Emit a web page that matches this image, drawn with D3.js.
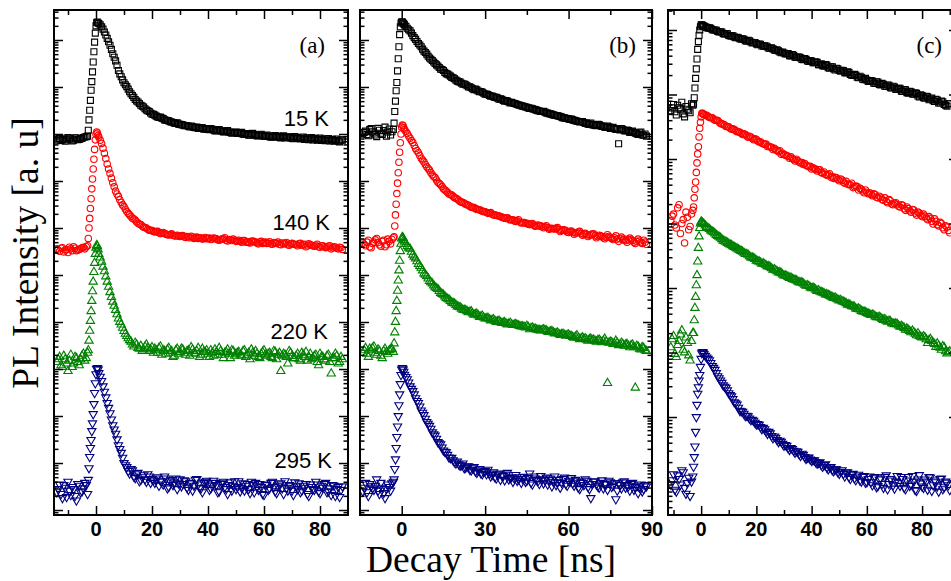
<!DOCTYPE html>
<html>
<head>
<meta charset="utf-8">
<script src="https://cdn.jsdelivr.net/npm/d3@7"></script>
<style>
  body { margin: 0; background: #fff; }
  .tick line { stroke: #000; stroke-width: 1.5; }
</style>
</head>
<body>
<script>
// decay time channels [ns]; panels (a) and (b) share one grid
const tAB = [
  -14, -13, -12, -11, -10, -9, -8, -7, -6, -5, -4, -3,
  -2.75, -2.5, -2.25, -2, -1.75, -1.5, -1.25, -1, -0.75, -0.5, -0.25, 0, 0.25, 0.5, 0.75,
  1, 2, 3, 4, 5, 6, 7, 8, 9, 10,
  11, 12, 13, 14, 15, 16, 17, 18, 19, 20,
  21, 22, 23, 24, 25, 26, 27, 28, 29, 30,
  31, 32, 33, 34, 35, 36, 37, 38, 39, 40,
  41, 42, 43, 44, 45, 46, 47, 48, 49, 50,
  51, 52, 53, 54, 55, 56, 57, 58, 59, 60,
  61, 62, 63, 64, 65, 66, 67, 68, 69, 70,
  71, 72, 73, 74, 75, 76, 77, 78, 79, 80,
  81, 82, 83, 84, 85, 86, 87, 88
];
// the in-between channels
const tABh = [
  -13.5, -12.5, -11.5, -10.5, -9.5, -8.5, -7.5, -6.5, -5.5, -4.5, -3.5,
  1.5, 2.5, 3.5, 4.5, 5.5, 6.5, 7.5, 8.5, 9.5, 10.5,
  11.5, 12.5, 13.5, 14.5, 15.5, 16.5, 17.5, 18.5, 19.5, 20.5,
  21.5, 22.5, 23.5, 24.5, 25.5, 26.5, 27.5, 28.5, 29.5, 30.5,
  31.5, 32.5, 33.5, 34.5, 35.5, 36.5, 37.5, 38.5, 39.5, 40.5,
  41.5, 42.5, 43.5, 44.5, 45.5, 46.5, 47.5, 48.5, 49.5, 50.5,
  51.5, 52.5, 53.5, 54.5, 55.5, 56.5, 57.5, 58.5, 59.5, 60.5,
  61.5, 62.5, 63.5, 64.5, 65.5, 66.5, 67.5, 68.5, 69.5, 70.5,
  71.5, 72.5, 73.5, 74.5, 75.5, 76.5, 77.5, 78.5, 79.5, 80.5,
  81.5, 82.5, 83.5, 84.5, 85.5, 86.5, 87.5
];
const tC = [
  -11, -10, -9, -8, -7, -6, -5, -4, -3,
  -2.75, -2.5, -2.25, -2, -1.75, -1.5, -1.25, -1, -0.75, -0.5, -0.25, 0, 0.25, 0.5, 0.75,
  1, 2, 3, 4, 5, 6, 7, 8, 9, 10,
  11, 12, 13, 14, 15, 16, 17, 18, 19, 20,
  21, 22, 23, 24, 25, 26, 27, 28, 29, 30,
  31, 32, 33, 34, 35, 36, 37, 38, 39, 40,
  41, 42, 43, 44, 45, 46, 47, 48, 49, 50,
  51, 52, 53, 54, 55, 56, 57, 58, 59, 60,
  61, 62, 63, 64, 65, 66, 67, 68, 69, 70,
  71, 72, 73, 74, 75, 76, 77, 78, 79, 80,
  81, 82, 83, 84, 85, 86, 87, 88, 89, 90
];
const tCh = [
  -10.5, -9.5, -8.5, -7.5, -6.5, -5.5, -4.5, -3.5,
  1.5, 2.5, 3.5, 4.5, 5.5, 6.5, 7.5, 8.5, 9.5, 10.5,
  11.5, 12.5, 13.5, 14.5, 15.5, 16.5, 17.5, 18.5, 19.5, 20.5,
  21.5, 22.5, 23.5, 24.5, 25.5, 26.5, 27.5, 28.5, 29.5, 30.5,
  31.5, 32.5, 33.5, 34.5, 35.5, 36.5, 37.5, 38.5, 39.5, 40.5,
  41.5, 42.5, 43.5, 44.5, 45.5, 46.5, 47.5, 48.5, 49.5, 50.5,
  51.5, 52.5, 53.5, 54.5, 55.5, 56.5, 57.5, 58.5, 59.5, 60.5,
  61.5, 62.5, 63.5, 64.5, 65.5, 66.5, 67.5, 68.5, 69.5, 70.5,
  71.5, 72.5, 73.5, 74.5, 75.5, 76.5, 77.5, 78.5, 79.5, 80.5,
  81.5, 82.5, 83.5, 84.5, 85.5, 86.5, 87.5, 88.5, 89.5
];

const temps = ['15 K', '140 K', '220 K', '295 K'];

// PL counts, panel (a)
const a15 = [
  72, 80, 76, 70, 84, 78, 74, 82, 77, 80, 86, 90,
  120, 200, 320, 520, 850, 1300, 2100, 3400, 5600, 9000, 14000, 20000, 23500, 24000, 23000,
  22500, 19000, 14800, 10800, 7700, 5100, 3600, 2250, 1650, 1230,
  1020, 790, 660, 540, 480, 410, 375, 325, 300, 265,
  252, 230, 228, 212, 196, 190, 180, 170, 174, 160,
  156, 152, 146, 148, 138, 140, 133, 136, 128, 126,
  131, 122, 118, 124, 114, 112, 118, 108, 106, 110,
  104, 108, 98, 101, 96, 103, 94, 92, 99, 90,
  95, 88, 86, 93, 90, 82, 91, 85, 87, 80,
  88, 83, 78, 86, 81, 76, 84, 80, 74, 82,
  77, 72, 80, 75, 70, 78, 68, 74
];
const a15h = [
  78, 73, 81, 75, 79, 71, 83, 76, 79, 84, 88,
  21000, 17000, 12800, 9200, 6300, 4300, 2900, 1900, 1420, 1120,
  900, 720, 600, 505, 445, 392, 345, 312, 280, 262,
  240, 224, 218, 200, 194, 182, 176, 168, 162, 158,
  150, 150, 141, 143, 136, 132, 137, 127, 130, 124,
  126, 116, 121, 117, 111, 116, 110, 104, 109, 103,
  106, 99, 102, 94, 100, 97, 91, 96, 92, 89,
  92, 85, 90, 87, 84, 88, 82, 86, 83, 79,
  85, 80, 82, 77, 83, 79, 75, 81, 77, 73,
  79, 74, 71, 77, 73, 70, 75
];
const a140 = [
  36, 32, 38, 34, 30, 36, 40, 33, 35, 38, 36, 42,
  60, 100, 160, 260, 420, 680, 1100, 1800, 2900, 4700, 7500, 10000, 11000, 10500, 9300,
  8600, 6300, 3900, 2300, 1450, 920, 610, 470, 350, 285,
  225, 190, 162, 148, 126, 118, 104, 100, 90, 88,
  82, 85, 76, 80, 74, 71, 75, 68, 70, 66,
  69, 63, 65, 67, 60, 64, 62, 58, 63, 60,
  57, 61, 59, 55, 58, 62, 53, 56, 58, 52,
  55, 50, 54, 51, 48, 53, 50, 46, 52, 49,
  47, 51, 45, 48, 50, 44, 46, 49, 43, 47,
  45, 42, 47, 44, 40, 46, 43, 41, 45, 39,
  42, 38, 41, 36, 40, 37, 39, 35
];
const a140h = [
  34, 37, 31, 35, 39, 33, 37, 34, 36, 39, 40,
  7400, 5000, 3000, 1800, 1150, 750, 530, 400, 310, 250,
  205, 176, 155, 136, 122, 110, 102, 94, 89, 85,
  84, 79, 78, 76, 72, 73, 70, 68, 67, 68,
  65, 66, 62, 64, 63, 60, 61, 60, 59, 61,
  58, 60, 56, 57, 59, 55, 57, 54, 55, 53,
  52, 54, 50, 49, 52, 51, 48, 50, 47, 50,
  48, 46, 49, 47, 45, 48, 47, 44, 46, 45,
  44, 46, 43, 45, 42, 44, 42, 43, 40, 42,
  40, 39, 42, 38, 39, 36, 38
];
const a220 = [
  14, 18, 11, 16, 9, 20, 13, 17, 12, 19, 15, 22,
  25, 40, 65, 105, 170, 280, 450, 720, 1150, 1800, 2800, 3800, 4300, 4100, 3500,
  2800, 1900, 1200, 720, 430, 270, 180, 118, 88, 64,
  50, 41, 33, 36, 28, 31, 26, 33, 24, 29,
  27, 22, 30, 25, 21, 28, 24, 19, 27, 23,
  26, 20, 25, 29, 22, 24, 18, 27, 23, 21,
  25, 19, 23, 28, 20, 22, 26, 17, 24, 21,
  23, 19, 25, 20, 16, 22, 24, 18, 21, 25,
  19, 22, 17, 23, 20, 9, 21, 18, 24, 19,
  17, 21, 15, 20, 23, 18, 16, 19, 14, 21,
  18, 15, 20, 8, 17, 19, 14, 16
];
const a220h = [
  16, 12, 19, 13, 15, 11, 18, 14, 16, 21, 17,
  2350, 1500, 930, 560, 340, 220, 145, 100, 75, 56,
  45, 38, 30, 33, 27, 24, 30, 28, 26, 22,
  25, 28, 20, 24, 26, 22, 18, 25, 21, 27,
  22, 24, 19, 26, 21, 28, 20, 23, 25, 18,
  22, 26, 20, 24, 17, 23, 21, 25, 19, 22,
  20, 24, 18, 22, 26, 19, 21, 17, 23, 20,
  21, 18, 24, 16, 22, 19, 20, 13, 22, 17,
  19, 16, 22, 18, 15, 21, 17, 20, 12, 18,
  16, 19, 14, 17, 21, 13, 18
];
const a295 = [
  24, 35, 18, 30, 40, 21, 28, 16, 33, 25, 38, 22,
  44, 78, 135, 210, 310, 480, 700, 1100, 1800, 3100, 5000, 7800, 10000, 10500, 9800,
  8200, 5600, 3300, 1900, 1150, 640, 420, 240, 165, 100,
  82, 60, 70, 48, 62, 44, 55, 40, 52, 46,
  38, 50, 42, 35, 47, 31, 44, 39, 28, 45,
  36, 41, 27, 38, 33, 46, 30, 24, 40, 35,
  29, 42, 34, 25, 37, 31, 22, 39, 33, 28,
  41, 30, 26, 36, 23, 34, 38, 27, 31, 21,
  35, 29, 40, 25, 32, 37, 22, 30, 34, 26,
  39, 28, 24, 33, 36, 20, 31, 27, 35, 23,
  30, 38, 25, 21, 33, 28, 19, 32
];
const a295h = [
  28, 22, 34, 19, 26, 31, 20, 36, 24, 29, 34,
  6900, 4300, 2500, 1500, 850, 520, 320, 200, 130, 90,
  68, 75, 52, 58, 41, 50, 45, 58, 38, 43,
  47, 33, 40, 52, 29, 41, 34, 47, 37, 32,
  43, 30, 37, 26, 44, 35, 29, 38, 42, 27,
  33, 38, 24, 36, 40, 28, 34, 26, 41, 31,
  25, 37, 33, 28, 40, 24, 32, 36, 22, 34,
  27, 38, 31, 23, 35, 29, 41, 26, 33, 21,
  32, 37, 26, 30, 22, 35, 28, 40, 25, 33,
  36, 24, 29, 34, 20, 31, 27
];

// PL counts, panel (b)
const b15 = [
  100, 115, 92, 130, 105, 88, 120, 98, 140, 110, 95, 125,
  170, 300, 500, 830, 1250, 2200, 4000, 7200, 13000, 19000, 23000, 24500, 24000, 23000, 22000,
  21000, 17800, 15600, 12400, 10300, 8400, 7200, 5800, 5000, 4150,
  3650, 3150, 2800, 2400, 2250, 1920, 1800, 1600, 1500, 1330,
  1270, 1150, 1120, 1000, 960, 880, 870, 790, 775, 700,
  690, 640, 620, 600, 550, 548, 500, 500, 460, 455,
  440, 415, 398, 385, 372, 350, 345, 330, 312, 300,
  305, 280, 270, 262, 250, 244, 236, 220, 215, 210,
  208, 195, 188, 180, 185, 168, 162, 170, 155, 150,
  158, 145, 140, 148, 132, 138, 125, 62, 130, 118,
  122, 108, 115, 104, 98, 110, 94, 90
];
const b15h = [
  108, 97, 124, 112, 95, 132, 104, 118, 90, 128, 112,
  19500, 16500, 14000, 11200, 9300, 7800, 6400, 5400, 4500, 3900,
  3400, 2950, 2600, 2350, 2050, 1880, 1700, 1560, 1400, 1300,
  1200, 1150, 1060, 1010, 920, 900, 820, 800, 735, 710,
  660, 645, 600, 580, 560, 520, 515, 480, 470, 445,
  425, 410, 392, 375, 360, 352, 335, 322, 308, 302,
  292, 278, 268, 255, 248, 240, 228, 222, 214, 205,
  200, 192, 184, 182, 175, 170, 160, 158, 152, 160,
  150, 146, 138, 142, 135, 130, 128, 122, 126, 116,
  118, 112, 108, 102, 106, 96, 100
];
const b140 = [
  48, 42, 55, 38, 50, 60, 44, 52, 40, 58, 46, 62,
  65, 110, 190, 320, 540, 900, 1500, 2500, 4100, 6500, 10000, 14000, 15500, 15000, 13500,
  12400, 10200, 8100, 6600, 4900, 4000, 3050, 2550, 2000, 1700,
  1350, 1180, 940, 830, 680, 610, 530, 500, 440, 415,
  365, 350, 320, 305, 275, 272, 250, 244, 226, 222,
  205, 212, 190, 186, 180, 170, 162, 165, 148, 150,
  138, 150, 128, 131, 126, 118, 124, 109, 115, 112,
  101, 112, 94, 99, 95, 102, 84, 92, 88, 80,
  86, 74, 79, 85, 70, 77, 66, 73, 75, 62,
  70, 66, 59, 72, 63, 57, 68, 52, 64, 58,
  50, 61, 54, 47, 58, 49, 55, 45
];
const b140h = [
  45, 50, 40, 47, 56, 49, 41, 55, 44, 52, 57,
  11300, 9100, 7300, 5700, 4400, 3500, 2800, 2250, 1850, 1500,
  1250, 1050, 880, 760, 640, 570, 515, 470, 430, 390,
  355, 335, 312, 290, 275, 258, 248, 235, 224, 214,
  208, 198, 188, 182, 175, 166, 160, 155, 150, 142,
  142, 134, 130, 126, 120, 122, 114, 112, 110, 106,
  106, 102, 97, 96, 98, 92, 89, 90, 82, 84,
  80, 78, 82, 76, 74, 72, 70, 74, 68, 66,
  68, 62, 64, 66, 60, 62, 58, 60, 56, 54,
  56, 57, 50, 52, 53, 47, 50
];
const b220 = [
  22, 28, 18, 25, 30, 20, 24, 17, 27, 21, 26, 23,
  35, 60, 100, 170, 280, 460, 760, 1250, 2000, 3200, 4600, 6000, 6400, 6100, 5500,
  5100, 4100, 3600, 2700, 2250, 1700, 1420, 1080, 940, 740,
  660, 545, 500, 415, 380, 322, 300, 258, 246, 214,
  205, 182, 178, 160, 168, 143, 150, 128, 135, 118,
  122, 108, 114, 100, 106, 95, 99, 88, 96, 86,
  90, 84, 80, 79, 83, 70, 76, 72, 68, 66,
  70, 66, 61, 64, 57, 59, 53, 56, 51, 54,
  50, 46, 52, 43, 47, 45, 40, 44, 42, 38,
  42, 37, 44, 5, 38, 34, 40, 32, 36, 31,
  34, 29, 33, 4, 30, 26, 28, 24
];
const b220h = [
  25, 21, 27, 28, 22, 26, 19, 24, 23, 25, 27,
  4600, 3800, 3100, 2450, 1950, 1550, 1250, 1010, 840, 700,
  600, 520, 455, 395, 350, 310, 278, 252, 230, 210,
  192, 180, 170, 164, 152, 146, 138, 132, 124, 120,
  114, 111, 106, 103, 99, 97, 93, 92, 89, 88,
  86, 82, 81, 76, 78, 74, 72, 69, 67, 68,
  67, 62, 63, 60, 58, 56, 55, 53, 53, 51,
  48, 49, 46, 45, 44, 42, 43, 41, 40, 41,
  39, 40, 38, 36, 37, 35, 36, 33, 34, 33,
  31, 32, 29, 31, 27, 29, 25
];
const b295 = [
  25, 38, 20, 32, 27, 45, 22, 30, 18, 35, 26, 40,
  45, 75, 120, 210, 360, 600, 1000, 1700, 2900, 4800, 7500, 9800, 10500, 9800, 8800,
  7600, 6100, 4300, 3400, 2400, 1900, 1320, 1050, 750, 620,
  450, 385, 280, 250, 185, 170, 132, 130, 104, 108,
  88, 98, 80, 86, 70, 82, 62, 75, 58, 68,
  72, 52, 64, 47, 60, 55, 43, 62, 48, 40,
  56, 45, 38, 51, 42, 60, 35, 47, 41, 53,
  37, 49, 44, 32, 52, 39, 30, 46, 36, 42,
  48, 33, 41, 28, 38, 45, 31, 18, 40, 35,
  30, 43, 36, 27, 39, 33, 17, 37, 29, 41,
  34, 26, 38, 31, 23, 35, 28, 32
];
const b295h = [
  30, 24, 36, 29, 33, 26, 38, 23, 28, 31, 37,
  6800, 5200, 3800, 2900, 2100, 1600, 1180, 880, 690, 540,
  410, 330, 265, 215, 175, 150, 128, 115, 98, 94,
  90, 78, 84, 72, 78, 66, 70, 60, 65, 58,
  60, 56, 50, 58, 44, 53, 57, 45, 50, 47,
  42, 50, 46, 40, 48, 38, 52, 44, 36, 45,
  43, 35, 47, 40, 34, 44, 38, 49, 33, 40,
  37, 44, 30, 39, 34, 42, 28, 36, 41, 32,
  38, 29, 35, 42, 31, 37, 26, 34, 39, 30,
  32, 36, 27, 33, 30, 25, 34
];

// PL counts, panel (c)
const c15 = [
  560, 700, 480, 620, 760, 450, 590, 520, 680,
  710, 890, 1260, 1780, 2500, 3550, 5000, 6600, 8300, 10000, 11200, 12000, 12000, 11700, 11500,
  11500, 11000, 10800, 10100, 10000, 9500, 9400, 8800, 8800, 8200,
  8100, 7800, 7700, 7300, 7300, 6800, 6900, 6500, 6400, 6100,
  6050, 5650, 5700, 5450, 5200, 5100, 4800, 4750, 4450, 4400,
  4300, 4000, 4150, 3800, 3800, 3700, 3450, 3500, 3250, 3300,
  3100, 3150, 2900, 2800, 2900, 2600, 2680, 2500, 2550, 2350,
  2380, 2180, 2250, 2050, 1980, 2000, 1820, 1850, 1700, 1680,
  1620, 1620, 1480, 1560, 1400, 1440, 1330, 1390, 1260, 1300,
  1200, 1250, 1120, 1180, 1050, 1100, 1010, 1040, 920, 960,
  880, 920, 850, 800, 840, 740, 790, 700, 660, 720
];
const c15h = [
  620, 540, 680, 590, 500, 650, 560, 720,
  11200, 10700, 10600, 10000, 9900, 9300, 9300, 8700, 8700, 8100,
  8100, 7600, 7600, 7200, 7200, 6700, 6800, 6300, 6400, 5900,
  6000, 5600, 5650, 5200, 5300, 4900, 4950, 4550, 4550, 4250,
  4300, 3950, 4050, 3750, 3800, 3500, 3600, 3300, 3350, 3100,
  3200, 2900, 3000, 2750, 2850, 2550, 2700, 2400, 2500, 2300,
  2350, 2150, 2200, 2000, 2050, 1850, 1920, 1720, 1780, 1600,
  1650, 1500, 1570, 1430, 1490, 1340, 1400, 1270, 1340, 1200,
  1250, 1130, 1190, 1070, 1120, 1020, 1060, 950, 990, 890,
  940, 830, 880, 780, 820, 740, 770, 680, 720
];
const c140 = [
  110, 140, 85, 195, 100, 50, 125, 90, 160,
  180, 250, 340, 440, 620, 870, 1200, 1550, 2200, 3000, 3700, 4500, 5100, 5100, 5000,
  4850, 4750, 4400, 4350, 4000, 3950, 3550, 3450, 3200, 3150,
  2900, 2870, 2640, 2600, 2400, 2400, 2180, 2200, 1990, 2000,
  1830, 1760, 1690, 1560, 1530, 1400, 1380, 1300, 1180, 1170,
  1120, 1030, 1020, 930, 940, 870, 820, 800, 760, 700,
  710, 650, 680, 600, 580, 570, 520, 500, 510, 460,
  470, 420, 410, 400, 360, 380, 330, 340, 300, 305,
  300, 270, 280, 250, 255, 230, 220, 235, 200, 205,
  195, 180, 190, 160, 170, 150, 162, 135, 145, 128,
  130, 115, 120, 98, 108, 92, 100, 80, 88, 72
];
const c140h = [
  130, 95, 175, 70, 115, 150, 80, 140,
  4800, 4550, 4400, 4150, 4000, 3750, 3500, 3350, 3200, 3000,
  2950, 2750, 2650, 2500, 2450, 2280, 2250, 2100, 2050, 1900,
  1850, 1720, 1700, 1580, 1520, 1460, 1360, 1340, 1230, 1150,
  1100, 1080, 980, 990, 900, 880, 850, 780, 770, 730,
  690, 680, 620, 630, 560, 590, 530, 520, 480, 490,
  440, 450, 400, 420, 370, 375, 350, 320, 330, 290,
  285, 290, 255, 265, 235, 250, 210, 225, 195, 210,
  185, 195, 170, 180, 158, 165, 145, 150, 135, 140,
  122, 128, 108, 118, 96, 104, 86, 92, 78
];
const c220 = [
  120, 180, 85, 150, 220, 100, 140, 75, 200,
  200, 316, 490, 725, 1100, 1580, 2570, 4170, 6300, 8500, 10000, 10700, 10500, 10200, 9900,
  9800, 8800, 8200, 7500, 7000, 6400, 6000, 5400, 5200, 4850,
  4600, 4300, 4100, 3850, 3650, 3350, 3280, 2980, 2900, 2650,
  2580, 2380, 2330, 2150, 2100, 1920, 1880, 1730, 1690, 1560,
  1530, 1430, 1380, 1340, 1260, 1210, 1170, 1080, 1070, 990,
  990, 900, 880, 850, 790, 780, 740, 700, 680, 640,
  620, 600, 550, 540, 520, 480, 480, 440, 430, 410,
  390, 385, 360, 350, 345, 320, 310, 310, 285, 275,
  275, 250, 250, 225, 225, 205, 205, 185, 180, 170,
  172, 140, 162, 140, 122, 128, 110, 120, 96, 104
];
const c220h = [
  160, 95, 130, 190, 110, 170, 90, 150,
  9300, 8500, 7800, 7300, 6600, 6200, 5700, 5300, 5000, 4700,
  4450, 4200, 3950, 3750, 3500, 3350, 3100, 2950, 2800, 2600,
  2480, 2400, 2250, 2180, 2020, 1950, 1810, 1760, 1620, 1560,
  1480, 1450, 1350, 1310, 1230, 1220, 1120, 1100, 1020, 1010,
  940, 920, 860, 830, 800, 760, 720, 710, 660, 650,
  610, 580, 560, 520, 510, 470, 465, 430, 420, 400,
  380, 380, 350, 355, 330, 330, 300, 305, 280, 282,
  262, 258, 240, 236, 215, 218, 195, 198, 175, 178,
  160, 155, 150, 135, 138, 118, 125, 104, 100
];
const c295 = [
  90, 130, 70, 110, 150, 80, 95, 60, 120,
  170, 240, 350, 590, 1000, 1550, 2300, 2900, 3700, 4500, 6000, 8000, 9800, 10200, 10000,
  9500, 8400, 7600, 6200, 5400, 4300, 3700, 3100, 2850, 2350,
  2100, 1700, 1560, 1250, 1210, 1040, 1030, 900, 880, 770,
  760, 650, 650, 550, 560, 470, 480, 410, 415, 360,
  360, 310, 320, 280, 290, 250, 260, 225, 236, 210,
  215, 190, 200, 170, 185, 155, 168, 145, 155, 132,
  150, 120, 140, 110, 132, 105, 128, 100, 122, 98,
  120, 88, 118, 85, 112, 80, 125, 92, 104, 78,
  122, 86, 110, 76, 118, 90, 100, 72, 126, 84,
  108, 75, 116, 88, 98, 70, 112, 82, 96, 74
];
const c295h = [
  105, 75, 125, 90, 140, 65, 115, 100,
  8900, 8000, 6900, 5800, 4800, 4000, 3400, 2950, 2600, 2200,
  1900, 1640, 1400, 1230, 1130, 1050, 950, 910, 820, 780,
  700, 680, 600, 590, 510, 500, 440, 430, 385, 370,
  330, 330, 300, 295, 265, 270, 240, 235, 220, 215,
  200, 195, 180, 180, 165, 168, 150, 155, 140, 142,
  132, 138, 118, 128, 112, 120, 104, 118, 96, 110,
  98, 115, 82, 108, 92, 118, 76, 110, 88, 100,
  96, 118, 80, 104, 86, 122, 74, 108, 94, 80,
  100, 118, 72, 104, 84, 110, 76, 100, 88
];

// vertical shift factors applied to each temperature curve
const shiftAB = [1e5, 1e3, 1e1, 1e-2];
const shiftC = [1e4, 1e3, 1e1, 1e-1];

const xLabelsA = [0, 20, 40, 60, 80];
const xLabelsB = [0, 30, 60, 90];
const xLabelsC = [0, 20, 40, 60, 80];

const width = 951;
const height = 581;
const plotTop = 10;
const plotBottom = 515;

const colors = ['#000000', '#ff0000', '#008000', '#000080'];
const symbols = [
  d3.symbol().type(d3.symbolSquare).size(36)(),
  d3.symbol().type(d3.symbolCircle).size(33)(),
  d3.symbol().type(d3.symbolTriangle).size(30)(),
  d3.symbol().type(d3.symbolTriangle).size(30)()
];

const panels = [
  { name: '(a)', left: 54, right: 348, times: [tAB, tABh],
    series: [[a15, a15h], [a140, a140h], [a220, a220h], [a295, a295h]], shift: shiftAB,
    xDomain: [-15, 90], yDomain: [Math.pow(10, -1.106), Math.pow(10, 9.638)],
    xMajor: xLabelsA, xMinor: [-10, 10, 30, 50, 70], nameX: 325 },
  { name: '(b)', left: 360, right: 652, times: [tAB, tABh],
    series: [[b15, b15h], [b140, b140h], [b220, b220h], [b295, b295h]], shift: shiftAB,
    xDomain: [-15, 90], yDomain: [Math.pow(10, -1.106), Math.pow(10, 9.638)],
    xMajor: xLabelsB, xMinor: [15, 45, 75], nameX: 636 },
  { name: '(c)', left: 668, right: 958, times: [tC, tCh],
    series: [[c15, c15h], [c140, c140h], [c220, c220h], [c295, c295h]], shift: shiftC,
    xDomain: [-12, 93], yDomain: [Math.pow(10, 0.481), Math.pow(10, 8.31)],
    xMajor: xLabelsC, xMinor: [-10, 10, 30, 50, 70, 90], nameX: 942 }
];

// where the temperature names sit in panel (a)
const tempLabelPos = [[329, 126], [330, 230], [328, 339], [332, 468]];

const svg = d3.select('body')
  .append('svg')
  .attr('width', width)
  .attr('height', height)
  .style('display', 'block');

function logTicks(domain) {
  const lo = Math.floor(Math.log10(domain[0]));
  const hi = Math.ceil(Math.log10(domain[1]));
  const major = [];
  const minor = [];
  for (let e = lo; e <= hi; e++) {
    for (let k = 1; k < 10; k++) {
      const v = k * Math.pow(10, e);
      if (v < domain[0] || v > domain[1]) continue;
      (k === 1 ? major : minor).push(v);
    }
  }
  return { major, minor };
}

function noDomain(sel) {
  sel.select('.domain').remove();
}

panels.forEach((p, pi) => {
  const x = d3.scaleLinear().domain(p.xDomain).range([p.left, p.right]);
  const y = d3.scaleLog().domain(p.yDomain).range([plotBottom, plotTop]);
  const g = svg.append('g').attr('class', 'panel');

  const clipId = `clip-${ pi }`;
  svg.append('clipPath').attr('id', clipId)
    .append('rect')
    .attr('x', p.left).attr('y', plotTop)
    .attr('width', p.right - p.left).attr('height', plotBottom - plotTop);

  // markers: main channels plus in-between channels, merged by time
  const marks = g.append('g').attr('clip-path', `url(#${ clipId })`);
  p.series.forEach((parts, si) => {
    const pts = [];
    parts.forEach((vals, k) => {
      const ts = p.times[k];
      vals.slice(0, ts.length).forEach((v, i) => pts.push({ t: ts[i], v: v * p.shift[si] }));
    });
    pts.sort((a, b) => a.t - b.t);
    marks.append('g')
      .selectAll('path')
      .data(pts)
      .join('path')
      .attr('d', symbols[si])
      .attr('transform', d => `translate(${ x(d.t) },${ y(d.v) })${ si === 3 ? ' rotate(180)' : '' }`)
      .attr('fill', 'none')
      .attr('stroke', colors[si])
      .attr('stroke-width', 1.1);
  });

  // ticks pointing inwards on all four sides
  const yt = logTicks(p.yDomain);
  const axes = [
    [d3.axisLeft(y).tickValues(yt.major).tickSize(-9), `translate(${ p.left },0)`],
    [d3.axisLeft(y).tickValues(yt.minor).tickSize(-4.5), `translate(${ p.left },0)`],
    [d3.axisRight(y).tickValues(yt.major).tickSize(-9), `translate(${ p.right },0)`],
    [d3.axisRight(y).tickValues(yt.minor).tickSize(-4.5), `translate(${ p.right },0)`],
    [d3.axisBottom(x).tickValues(p.xMajor).tickSize(-9), `translate(0,${ plotBottom })`],
    [d3.axisBottom(x).tickValues(p.xMinor).tickSize(-5), `translate(0,${ plotBottom })`],
    [d3.axisTop(x).tickValues(p.xMajor).tickSize(-9), `translate(0,${ plotTop })`],
    [d3.axisTop(x).tickValues(p.xMinor).tickSize(-5), `translate(0,${ plotTop })`]
  ];
  axes.forEach(([ax, tr]) => {
    g.append('g')
      .attr('transform', tr)
      .call(ax.tickFormat(''))
      .call(noDomain);
  });

  g.append('rect')
    .attr('x', p.left).attr('y', plotTop)
    .attr('width', p.right - p.left).attr('height', plotBottom - plotTop)
    .attr('fill', 'none')
    .attr('stroke', '#000')
    .attr('stroke-width', 2);

  g.selectAll('text.xlab')
    .data(p.xMajor)
    .join('text')
    .attr('class', 'xlab')
    .attr('x', d => x(d))
    .attr('y', 536)
    .attr('text-anchor', 'middle')
    .style('font-family', '"Liberation Sans", Arial, sans-serif')
    .style('font-weight', 'bold')
    .style('font-size', '20px')
    .text(d => d);

  g.append('text')
    .attr('x', p.nameX)
    .attr('y', 53)
    .attr('text-anchor', 'end')
    .style('font-family', '"Liberation Serif", "Times New Roman", serif')
    .style('font-size', '23px')
    .text(p.name);
});

svg.selectAll('text.temp')
  .data(temps)
  .join('text')
  .attr('class', 'temp')
  .attr('x', (d, i) => tempLabelPos[i][0])
  .attr('y', (d, i) => tempLabelPos[i][1])
  .attr('text-anchor', 'end')
  .style('font-family', '"Liberation Sans", Arial, sans-serif')
  .style('font-size', '22px')
  .text(d => d);

svg.append('text')
  .attr('x', 491)
  .attr('y', 572)
  .attr('text-anchor', 'middle')
  .style('font-family', '"Liberation Serif", "Times New Roman", serif')
  .style('font-size', '37.5px')
  .text('Decay Time [ns]');

svg.append('text')
  .attr('transform', 'translate(38,253) rotate(-90)')
  .attr('text-anchor', 'middle')
  .style('font-family', '"Liberation Serif", "Times New Roman", serif')
  .style('font-size', '37.5px')
  .text('PL Intensity [a. u]');
</script>
</body>
</html>
